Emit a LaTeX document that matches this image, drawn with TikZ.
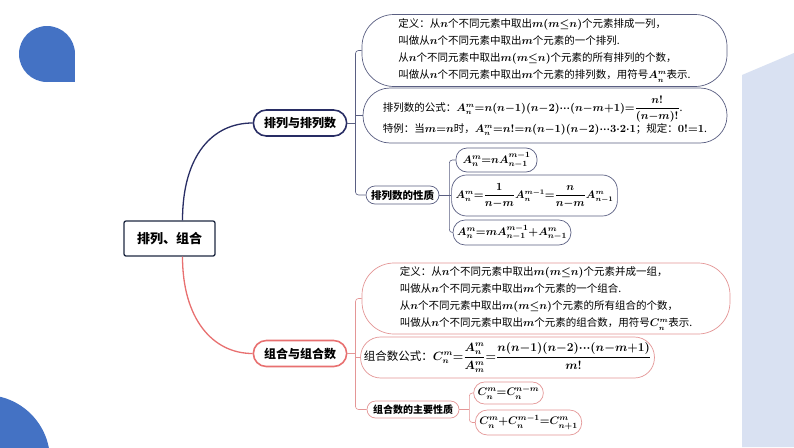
\documentclass[tikz,border=0pt]{standalone}
\usepackage{amsmath}
\usepackage{fontspec}
\setmainfont{Noto Sans CJK SC}
\usetikzlibrary{shapes.misc,calc}
\definecolor{navy}{RGB}{40,45,100}
\definecolor{navyline}{RGB}{90,95,130}
\definecolor{coral}{RGB}{232,112,112}
\definecolor{coralline}{RGB}{228,150,150}
\definecolor{rootline}{RGB}{30,40,65}
\definecolor{dropblue}{RGB}{68,114,196}
\definecolor{panel}{RGB}{217,225,242}
\newcommand{\tightmath}{\boldmath\thinmuskip=0mu\medmuskip=0mu\thickmuskip=0mu}

\begin{document}
\begin{tikzpicture}[x=1pt,y=-1pt,
  root/.style={draw=rootline,line width=1.3pt,rounded corners=2pt,minimum width=91pt,minimum height=35pt,font=\bfseries\fontsize{13}{15}\selectfont},
  topic/.style={rounded rectangle,draw,line width=1.6pt,minimum width=100pt,minimum height=26pt,font=\bfseries\fontsize{12}{14}\selectfont},
  card/.style={draw,line width=0.7pt,align=left,font=\fontsize{10.5}{17}\selectfont\tightmath},
  tag/.style={rounded rectangle,draw,line width=0.7pt,inner xsep=3pt,font=\bfseries\fontsize{10.5}{12}\selectfont},
  leaf/.style={draw,line width=0.7pt,inner xsep=4pt,inner ysep=1pt,font=\fontsize{11}{13}\selectfont\tightmath},
  brk/.style={line width=0.6pt,rounded corners=3pt}]
  \useasboundingbox (0,0) rectangle (794,447);
  \fill[white] (0,0) rectangle (794,447);
  % decoration
  \begin{scope}
    \clip (0,0) rectangle (794,447);
    \fill[panel] (742,75) -- (794,53) -- (794,447) -- (742,447) -- cycle;
    \fill[dropblue] (47,54) circle (28pt);
    \fill[dropblue] (47,54) rectangle (75,82);
    \fill[dropblue] (-15,460) circle (65pt);
  \end{scope}

  % main topics
  \node[root] (rt) at (169.5,238.5) {排列、组合};
  \node[topic,draw=navy] (perm) at (300,123) {排列与排列数};
  \node[topic,draw=coral] (comb) at (300,353.5) {组合与组合数};

  % permutations
  \node[card,draw=navyline,rounded corners=32pt,minimum width=365pt,minimum height=72pt] (pdef) at (544.5,50.5)
    {定义：从$n$个不同元素中取出$m(m\le n)$个元素排成一列，\\
     叫做从$n$个不同元素中取出$m$个元素的一个排列.\\
     从$n$个不同元素中取出$m(m\le n)$个元素的所有排列的个数，\\
     叫做从$n$个不同元素中取出$m$个元素的排列数，用符号$A_n^m$表示.};
  \node[card,draw=navyline,rounded corners=27pt,minimum width=364pt,minimum height=55pt,font=\fontsize{10.5}{19}\selectfont\tightmath] (pform) at (545,115.5)
    {排列数的公式：$A_n^m=n(n-1)(n-2)\cdots(n-m+1)=\dfrac{n!}{(n-m)!}$.\\
     特例：当$m=n$时，$A_n^m=n!=n(n-1)(n-2)\cdots3\cdot2\cdot1$；规定：$0!=1$.};
  \node[tag,draw=navyline,minimum width=79pt,minimum height=18pt] (pprop) at (402.5,195) {排列数的性质};
  \node[leaf,draw=navyline,rounded corners=11pt,minimum width=81pt,minimum height=24pt] (pa) at (496.5,160) {$A_n^m=nA_{n-1}^{m-1}$};
  \node[leaf,draw=navyline,rounded corners=15pt,minimum width=157pt,minimum height=41pt,font=\fontsize{10.5}{13}\selectfont\tightmath] (pb) at (534.5,195.5)
    {$A_n^m=\dfrac{1}{n-m}A_n^{m-1}=\dfrac{n}{n-m}A_{n-1}^m$};
  \node[leaf,draw=navyline,rounded corners=12pt,minimum width=112pt,minimum height=25pt] (pc) at (512,232.5) {$A_n^m=mA_{n-1}^{m-1}+A_{n-1}^m$};

  % combinations
  \node[card,draw=coralline,rounded corners=32pt,minimum width=368pt,minimum height=71pt] (cdef) at (546,298.5)
    {定义：从$n$个不同元素中取出$m(m\le n)$个元素并成一组，\\
     叫做从$n$个不同元素中取出$m$个元素的一个组合.\\
     从$n$个不同元素中取出$m(m\le n)$个元素的所有组合的个数，\\
     叫做从$n$个不同元素中取出$m$个元素的组合数，用符号$C_n^m$表示.};
  \node[card,draw=coralline,rounded corners=20pt,minimum width=289pt,minimum height=41pt,font=\fontsize{11.5}{14}\selectfont\tightmath] (cform) at (507.5,357.5)
    {组合数公式：$C_n^m=\dfrac{A_n^m}{A_m^m}=\dfrac{n(n-1)(n-2)\cdots(n-m+1)}{m!}$};
  \node[tag,draw=coralline,minimum width=98pt,minimum height=17pt,font=\bfseries\fontsize{10}{12}\selectfont] (cprop) at (413,409.5) {组合数的主要性质};
  \node[leaf,draw=coralline,rounded corners=11pt,minimum width=63pt,minimum height=22pt] (ca) at (508.5,393) {$C_n^m=C_n^{n-m}$};
  \node[leaf,draw=coralline,rounded corners=12pt,minimum width=103pt,minimum height=25pt] (cb) at (528.5,422.5) {$C_n^m+C_n^{m-1}=C_{n+1}^m$};

  % links
  \draw[navy,line width=1.3pt] ([xshift=13pt]rt.north) .. controls +(0,-65) and +(-40,0) .. (perm.west);
  \draw[coral,line width=1.3pt] ([xshift=13pt]rt.south) .. controls +(0,62) and +(-40,0) .. (comb.west);

  \coordinate (pj) at ($(perm.east)+(8,0)$);
  \draw[brk,navyline] (perm.east) -- (pj);
  \draw[brk,navyline] (pdef.west) -- (pdef.west -| pj) -- (pprop.west -| pj) -- (pprop.west);
  \draw[brk,navyline] (pform.west) -- (pform.west -| pj);
  \coordinate (pk) at ($(pprop.east)+(10,0)$);
  \draw[brk,navyline] (pprop.east) -- (pk);
  \draw[brk,navyline] (pa.west) -- (pa.west -| pk) -- (pc.west -| pk) -- (pc.west);
  \draw[brk,navyline] (pb.west) -- (pb.west -| pk);

  \coordinate (cj) at ($(comb.east)+(8,0)$);
  \draw[brk,coralline] (comb.east) -- (cj);
  \draw[brk,coralline] (cdef.west) -- (cdef.west -| cj) -- (cprop.west -| cj) -- (cprop.west);
  \draw[brk,coralline] (cform.west) -- (cform.west -| cj);
  \coordinate (ck) at ($(cprop.east)+(10,0)$);
  \draw[brk,coralline] (cprop.east) -- (ck);
  \draw[brk,coralline] (ca.west) -- (ca.west -| ck) -- (cb.west -| ck) -- (cb.west);
\end{tikzpicture}
\end{document}
